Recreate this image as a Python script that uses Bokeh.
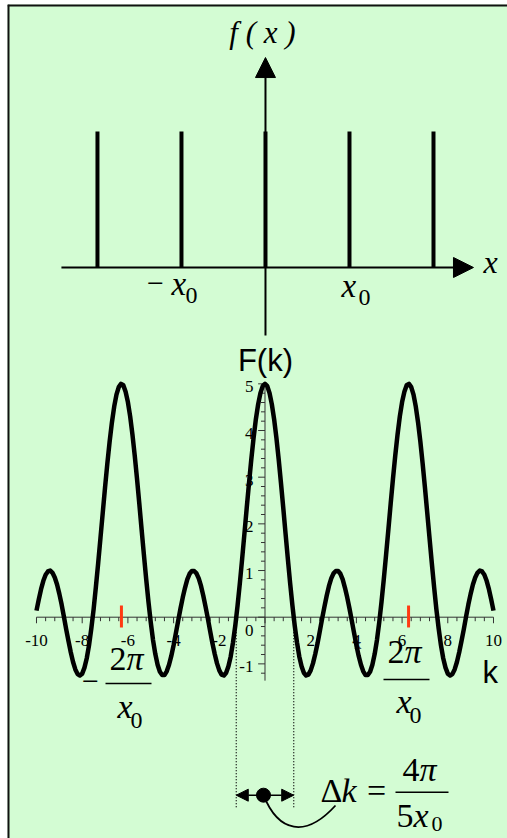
import numpy as np
from bokeh.plotting import figure
from bokeh.models import Range1d, Arrow, NormalHead
from bokeh.core.properties import value
from bokeh.embed import file_html
from bokeh.resources import INLINE

# ---------------- data ----------------
# f(x): comb of delta spikes at multiples of x0
spike_x = [-2, -1, 0, 1, 2]
spike_height = [1.0, 1.0, 1.0, 1.0, 1.0]

# F(k): values (x0 = 1)
k_values = [
    -10.0, -9.9, -9.8, -9.7, -9.6, -9.5, -9.4, -9.3, -9.2, -9.1,
    -9.0, -8.9, -8.8, -8.7, -8.6, -8.5, -8.4, -8.3, -8.2, -8.1,
    -8.0, -7.9, -7.8, -7.7, -7.6, -7.5, -7.4, -7.3, -7.2, -7.1,
    -7.0, -6.9, -6.8, -6.7, -6.6, -6.5, -6.4, -6.3, -6.2, -6.1,
    -6.0, -5.9, -5.8, -5.7, -5.6, -5.5, -5.4, -5.3, -5.2, -5.1,
    -5.0, -4.9, -4.8, -4.7, -4.6, -4.5, -4.4, -4.3, -4.2, -4.1,
    -4.0, -3.9, -3.8, -3.7, -3.6, -3.5, -3.4, -3.3, -3.2, -3.1,
    -3.0, -2.9, -2.8, -2.7, -2.6, -2.5, -2.4, -2.3, -2.2, -2.1,
    -2.0, -1.9, -1.8, -1.7, -1.6, -1.5, -1.4, -1.3, -1.2, -1.1,
    -1.0, -0.9, -0.8, -0.7, -0.6, -0.5, -0.4, -0.3, -0.2, -0.1,
    0.0,
    0.1, 0.2, 0.3, 0.4, 0.5, 0.6, 0.7, 0.8, 0.9, 1.0,
    1.1, 1.2, 1.3, 1.4, 1.5, 1.6, 1.7, 1.8, 1.9, 2.0,
    2.1, 2.2, 2.3, 2.4, 2.5, 2.6, 2.7, 2.8, 2.9, 3.0,
    3.1, 3.2, 3.3, 3.4, 3.5, 3.6, 3.7, 3.8, 3.9, 4.0,
    4.1, 4.2, 4.3, 4.4, 4.5, 4.6, 4.7, 4.8, 4.9, 5.0,
    5.1, 5.2, 5.3, 5.4, 5.5, 5.6, 5.7, 5.8, 5.9, 6.0,
    6.1, 6.2, 6.3, 6.4, 6.5, 6.6, 6.7, 6.8, 6.9, 7.0,
    7.1, 7.2, 7.3, 7.4, 7.5, 7.6, 7.7, 7.8, 7.9, 8.0,
    8.1, 8.2, 8.3, 8.4, 8.5, 8.6, 8.7, 8.8, 8.9, 9.0,
    9.1, 9.2, 9.3, 9.4, 9.5, 9.6, 9.7, 9.8, 9.9, 10.0,
]
F_values = [
    0.14, 0.38, 0.60, 0.78, 0.91, 0.98, 1.00, 0.95, 0.85, 0.70,
    0.50, 0.27, 0.01, -0.26, -0.51, -0.75, -0.96, -1.12, -1.22, -1.25,
    -1.21, -1.08, -0.88, -0.60, -0.24, 0.17, 0.65, 1.16, 1.70, 2.24,
    2.78, 3.29, 3.76, 4.17, 4.51, 4.77, 4.93, 5.00, 4.97, 4.83,
    4.61, 4.30, 3.91, 3.46, 2.96, 2.43, 1.88, 1.34, 0.82, 0.33,
    -0.11, -0.49, -0.79, -1.02, -1.17, -1.24, -1.24, -1.16, -1.02, -0.83,
    -0.60, -0.34, -0.08, 0.18, 0.42, 0.63, 0.81, 0.93, 0.99, 0.99,
    0.94, 0.83, 0.67, 0.46, 0.22, -0.03, -0.30, -0.56, -0.79, -0.99,
    -1.14, -1.23, -1.25, -1.19, -1.05, -0.84, -0.54, -0.18, 0.25, 0.73,
    1.25, 1.79, 2.34, 2.87, 3.38, 3.84, 4.24, 4.56, 4.80, 4.95,
    5.00,
    4.95, 4.80, 4.56, 4.24, 3.84, 3.38, 2.87, 2.34, 1.79, 1.25,
    0.73, 0.25, -0.18, -0.54, -0.84, -1.05, -1.19, -1.25, -1.23, -1.14,
    -0.99, -0.79, -0.56, -0.30, -0.03, 0.22, 0.46, 0.67, 0.83, 0.94,
    0.99, 0.99, 0.93, 0.81, 0.63, 0.42, 0.18, -0.08, -0.34, -0.60,
    -0.83, -1.02, -1.16, -1.24, -1.24, -1.17, -1.02, -0.79, -0.49, -0.11,
    0.33, 0.82, 1.34, 1.88, 2.43, 2.96, 3.46, 3.91, 4.30, 4.61,
    4.83, 4.97, 5.00, 4.93, 4.77, 4.51, 4.17, 3.76, 3.29, 2.78,
    2.24, 1.70, 1.16, 0.65, 0.17, -0.24, -0.60, -0.88, -1.08, -1.21,
    -1.25, -1.22, -1.12, -0.96, -0.75, -0.51, -0.26, 0.01, 0.27, 0.50,
    0.70, 0.85, 0.95, 1.00, 0.98, 0.91, 0.78, 0.60, 0.38, 0.14,
]

x_tick_values = [-10, -8, -6, -4, -2, 2, 4, 6, 8, 10]
x_tick_labels = ["-10", "-8", "-6", "-4", "-2", "2", "4", "6", "8", "10"]
y_tick_values = [5, 4, 3, 2, 1, -1]
y_tick_labels = ["5", "4", "3", "2", "1", "-1"]

marker_k = [-6.283, 6.283]     # k = -2pi/x0, +2pi/x0
band_k = [-1.257, 1.257]       # first zeros: +-2pi/(5 x0)

# ---------------- styling ----------------
GREEN = "#d3fcd3"
SERIF = "Liberation Serif"
SANS = "Liberation Sans"
AXIS = "#333333"

W, H = 507, 838
KR = Range1d(-11.269, 10.613)
FR = Range1d(-4.742, 13.128)
p = figure(width=W, height=H, output_backend="svg", toolbar_location=None,
           x_range=KR, y_range=FR,
           x_axis_location=None, y_axis_location=None,
           min_border_left=7, min_border_top=4, min_border_right=0, min_border_bottom=0,
           background_fill_color=GREEN, border_fill_color="white",
           outline_line_color=None)
p.grid.visible = False
p.extra_x_ranges = {"top_x": Range1d(-3.071, 2.881)}
p.extra_y_ranges = {"top_y": Range1d(-4.199, 1.934)}
TOP = dict(x_range_name="top_x", y_range_name="top_y")

# box border (left and top edges of the frame; half of the stroke is clipped)
p.segment(x0=[KR.start, KR.start], y0=[FR.start, FR.end], x1=[KR.start, KR.end],
          y1=[FR.end, FR.end], line_color="#111111", line_width=4)


def txt(x, y, s, size, style="normal", font=SERIF, align="left",
        baseline="alphabetic", color="black", top=False, y_offset=0):
    """y is the text baseline (alphabetic) or its centre (middle)."""
    kw = TOP if top else {}
    xs = x if isinstance(x, list) else [x]
    ys = y if isinstance(y, list) else [y]
    ss = s if isinstance(s, list) else [s]
    if baseline == "alphabetic":
        # place the centre of the em box ~0.34 em above the requested baseline
        baseline = "middle"
        y_offset = y_offset - 0.34 * size
    p.text(x=xs, y=ys, text=ss, text_font=value(font),
           text_font_size=value(f"{size}px"), text_font_style=value(style),
           text_align=value(align), text_baseline=value(baseline),
           text_color=color, y_offset=y_offset, **kw)


# ================= top panel: f(x) =================
p.add_layout(Arrow(end=NormalHead(size=20, fill_color="black", line_color="black"),
                   x_start=-2.429, y_start=0, x_end=2.476, y_end=0,
                   line_width=2, line_color="black", **TOP))
p.add_layout(Arrow(end=NormalHead(size=20, fill_color="black", line_color="black"),
                   x_start=0, y_start=-0.5, x_end=0, y_end=1.544,
                   line_width=2, line_color="black", **TOP))
p.segment(x0=spike_x, y0=[0] * len(spike_x), x1=spike_x, y1=spike_height,
          line_width=4, line_color="black", **TOP)

txt(-0.036, 1.654, "f ( x )", 31, style="italic", align="center", top=True)
txt(2.595, -0.037, "x", 32, style="italic", top=True)
txt(-1.31, -0.195, "\u2212", 30, align="center", top=True)
txt(-1.119, -0.206, "x", 33, style="italic", top=True)
txt(-0.952, -0.265, "0", 24, top=True)
txt(0.905, -0.22, "x", 33, style="italic", top=True)
txt(1.107, -0.279, "0", 24, top=True)

# ================= bottom panel: F(k) =================
# axes
p.segment(x0=[-10], y0=[0], x1=[10], y1=[0], line_color=AXIS, line_width=1)
p.segment(x0=[0], y0=[-1.36], x1=[0], y1=[5.0], line_color=AXIS, line_width=1)

xt = np.linspace(-10, 10, 51)
xt_major = np.isclose(np.mod(xt + 10, 2), 0) | np.isclose(np.mod(xt + 10, 2), 2)
xt_len = np.where(xt_major, 0.13, 0.086)
p.segment(x0=xt, y0=np.zeros_like(xt), x1=xt, y1=-xt_len, line_color=AXIS, line_width=1)

yt = np.linspace(-1.2, 5.0, 32)
yt_major = np.isclose(yt, np.round(yt))
yt_len = np.where(yt_major, 0.30, 0.175)
p.segment(x0=np.zeros_like(yt), y0=yt, x1=-yt_len, y1=yt, line_color=AXIS, line_width=1)

# tick labels
txt(x_tick_values, [-0.50] * len(x_tick_values), x_tick_labels, 17,
    align="center", baseline="middle")
txt([-0.503] * len(y_tick_values), y_tick_values, y_tick_labels, 17,
    align="right", baseline="middle", y_offset=3)
txt(-0.503, -0.285, "0", 17, align="right", baseline="middle")
txt(4.06, -0.565, "k", 15, align="center", baseline="middle", color="#333333")

# titles
txt(0.02, 5.265, "F(k)", 31, font=SANS, align="center")
txt(9.52, -1.42, "k", 31, font=SANS)

# the curve
p.line(k_values, F_values, line_width=4.5, line_color="black", line_join="round")

# red markers at +-2pi/x0
p.segment(x0=marker_k, y0=[0.25] * 2, x1=marker_k, y1=[-0.22] * 2,
          line_color="#ff3a12", line_width=3)

# -2pi/x0 label
txt(-7.64, -1.592, "\u2212", 30, align="center")
txt(-6.061, -1.142, "2", 34, align="right")
txt(-6.061, -1.142, "\u03c0", 34, style="italic")
p.segment(x0=[-6.98], y0=[-1.42], x1=[-4.967], y1=[-1.42], line_color="black", line_width=1.5)
txt(-5.799, -2.171, "x", 34, style="italic", align="right")
txt(-5.886, -2.385, "0", 24)

# 2pi/x0 label
txt(6.105, -0.992, "2", 34, align="right")
txt(6.105, -0.992, "\u03c0", 34, style="italic")
p.segment(x0=[5.186], y0=[-1.335], x1=[7.199], y1=[-1.335], line_color="black", line_width=1.5)
txt(6.411, -2.063, "x", 34, style="italic", align="right")
txt(6.324, -2.277, "0", 24)

# delta-k construction
p.segment(x0=band_k, y0=[0, 0], x1=band_k, y1=[-4.10, -4.10],
          line_color="black", line_width=1.3, line_dash="1 2")
arrow_y = -3.814
p.add_layout(Arrow(start=NormalHead(size=12, fill_color="black", line_color="black"),
                   end=NormalHead(size=12, fill_color="black", line_color="black"),
                   x_start=band_k[0], y_start=arrow_y, x_end=band_k[1], y_end=arrow_y,
                   line_width=1.5, line_color="black"))
mid_k = (band_k[0] + band_k[1]) / 2
p.scatter([mid_k - 0.066], [arrow_y], size=14, color="black")
p.bezier(x0=[mid_k - 0.066], y0=[arrow_y], x1=[3.085], y1=[-4.035],
         cx0=[0.591], cy0=[-4.614], cx1=[1.772], cy1=[-4.742],
         line_color="black", line_width=1.8)

txt(2.429, -3.971, "\u0394", 34)
txt(3.348, -3.971, "k", 34, style="italic")
txt(4.880, -3.971, "=", 34, align="center")
p.segment(x0=[5.711], y0=[-3.752], x1=[8.031], y1=[-3.752], line_color="black", line_width=1.5)
txt(6.762, -3.520, "4", 34, align="right")
txt(6.762, -3.520, "\u03c0", 34, style="italic")
txt(6.499, -4.506, "5", 34, align="right")
txt(6.499, -4.506, "x", 34, style="italic")
txt(7.287, -4.592, "0", 22)

open("out.html", "w").write(file_html(p, INLINE))
